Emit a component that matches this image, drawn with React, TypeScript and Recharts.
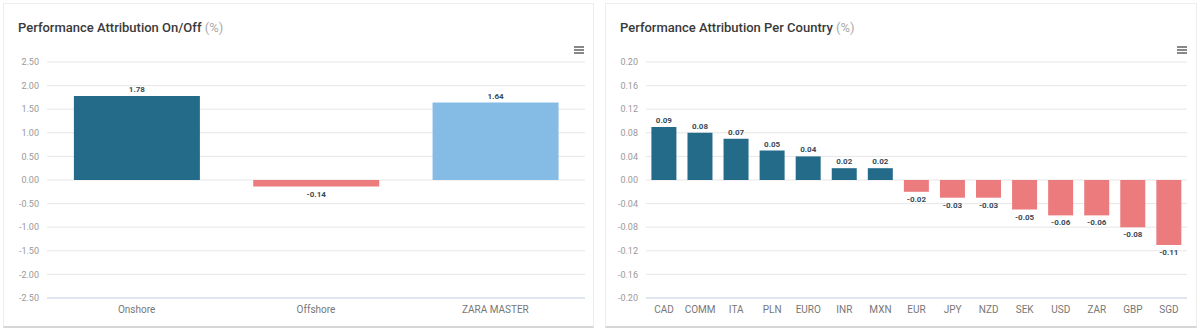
import React from "react";
import { BarChart, Bar, XAxis, YAxis, CartesianGrid, Cell, LabelList } from "recharts";

const onOffCategories = ["Onshore", "Offshore", "ZARA MASTER"];
const onOffValues = [1.78, -0.14, 1.64];
const onOffColors = ["#246b8a", "#ec7b7e", "#85bce6"];
const onOffTicks = [-2.5, -2, -1.5, -1, -0.5, 0, 0.5, 1, 1.5, 2, 2.5];

const countryCategories = ["CAD", "COMM", "ITA", "PLN", "EURO", "INR", "MXN", "EUR", "JPY", "NZD", "SEK", "USD", "ZAR", "GBP", "SGD"];
const countryValues = [0.09, 0.08, 0.07, 0.05, 0.04, 0.02, 0.02, -0.02, -0.03, -0.03, -0.05, -0.06, -0.06, -0.08, -0.11];
const countryTicks = [-0.2, -0.16, -0.12, -0.08, -0.04, 0, 0.04, 0.08, 0.12, 0.16, 0.2];

const POS = "#246b8a";
const NEG = "#ec7b7e";
const FONT = "Roboto, 'Noto Sans', sans-serif";

const onOffData = onOffCategories.map((c, i) => ({ name: c, value: onOffValues[i] }));
const countryData = countryCategories.map((c, i) => ({ name: c, value: countryValues[i] }));

const ValueLabel = (props: any) => {
  const { x, y, width, height, value } = props;
  const top = Math.min(y, y + height);
  const bottom = Math.max(y, y + height);
  const cx = x + width / 2;
  const ty = value >= 0 ? top - 4 : bottom + 10;
  return (
    <text x={cx} y={ty} textAnchor="middle" fontSize={8} fontWeight={700} fill="#3a4a5a" fontFamily={FONT}>
      {Number(value).toFixed(2)}
    </text>
  );
};

const Menu = ({ left }: { left: number }) => (
  <div style={{ position: "absolute", left, top: 46, width: 10 }}>
    {[0, 1, 2].map((i) => (
      <div key={i} style={{ height: 1.5, background: "#888", marginBottom: 1.5 }} />
    ))}
  </div>
);

const Card = ({ left, width, title }: { left: number; width: number; title: string }) => (
  <div
    style={{
      position: "absolute",
      left,
      top: 3,
      width,
      height: 325,
      border: "1px solid #ededed",
      borderBottom: "2px solid #d6d6d6",
      boxSizing: "border-box",
      background: "#fff",
    }}
  >
    <div
      style={{
        position: "absolute",
        left: 14,
        top: 16,
        fontFamily: FONT,
        fontSize: 13,
        fontWeight: 500,
        color: "#3a3a3a",
        whiteSpace: "nowrap",
      }}
    >
      {title} <span style={{ color: "#aaa", fontWeight: 400 }}>(%)</span>
    </div>
  </div>
);

export default function App() {
  return (
    <div style={{ position: "absolute", left: 0, top: 0, width: 1200, height: 332, background: "#fff", overflow: "hidden" }}>
      <Card left={3} width={591} title="Performance Attribution On/Off" />
      <Card left={605} width={592} title="Performance Attribution Per Country" />
      <Menu left={574} />
      <Menu left={1177} />

      <div style={{ position: "absolute", left: 3, top: 50 }}>
        <BarChart width={590} height={275} data={onOffData} margin={{ top: 12, right: 8, left: 0, bottom: 0 }} barCategoryGap="15%">
          <CartesianGrid vertical={false} stroke="#e6e6e6" />
          <XAxis
            dataKey="name"
            height={27}
            axisLine={{ stroke: "#ccd6eb" }}
            tickLine={false}
            tick={{ fontSize: 10, fill: "#777", fontFamily: FONT }}
            interval={0}
          />
          <YAxis
            width={44}
            domain={[-2.5, 2.5]}
            ticks={onOffTicks}
            axisLine={false}
            tickLine={false}
            tickFormatter={(v: number) => v.toFixed(2)}
            tick={{ fontSize: 9, fill: "#999", fontFamily: FONT }}
          />
          <Bar dataKey="value" isAnimationActive={false}>
            {onOffData.map((d, i) => (
              <Cell key={d.name} fill={onOffColors[i]} />
            ))}
            <LabelList dataKey="value" content={ValueLabel} />
          </Bar>
        </BarChart>
      </div>

      <div style={{ position: "absolute", left: 605, top: 50 }}>
        <BarChart width={592} height={275} data={countryData} margin={{ top: 12, right: 10, left: 0, bottom: 0 }} barCategoryGap="15%">
          <CartesianGrid vertical={false} stroke="#e6e6e6" />
          <XAxis
            dataKey="name"
            height={27}
            axisLine={{ stroke: "#ccd6eb" }}
            tickLine={false}
            tick={{ fontSize: 10, fill: "#777", fontFamily: FONT }}
            interval={0}
          />
          <YAxis
            width={41}
            domain={[-0.2, 0.2]}
            ticks={countryTicks}
            axisLine={false}
            tickLine={false}
            tickFormatter={(v: number) => v.toFixed(2)}
            tick={{ fontSize: 9, fill: "#999", fontFamily: FONT }}
          />
          <Bar dataKey="value" isAnimationActive={false}>
            {countryData.map((d) => (
              <Cell key={d.name} fill={d.value >= 0 ? POS : NEG} />
            ))}
            <LabelList dataKey="value" content={ValueLabel} />
          </Bar>
        </BarChart>
      </div>
    </div>
  );
}
